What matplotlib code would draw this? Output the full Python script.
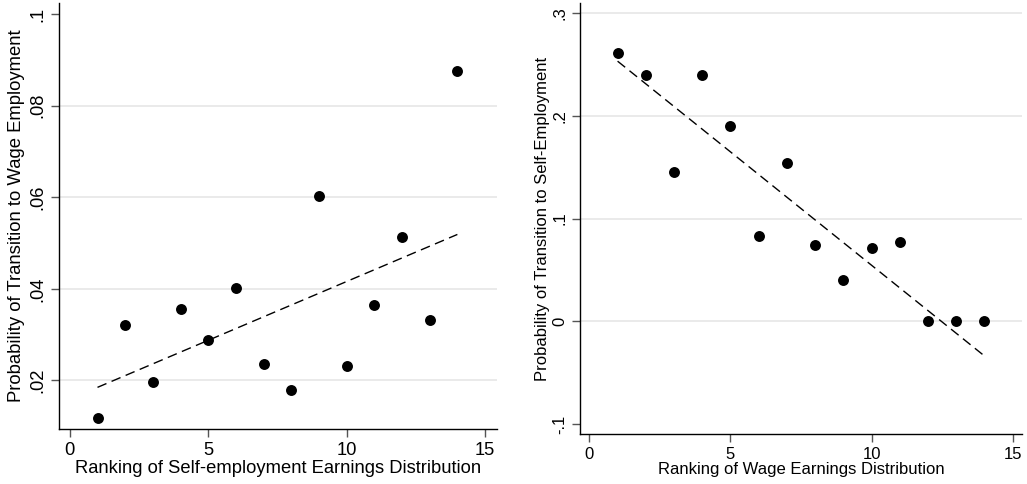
import matplotlib
matplotlib.use('Agg')
import matplotlib.pyplot as plt
import numpy as np

plt.rcParams['font.family'] = ['Liberation Sans', 'DejaVu Sans']

# Left panel: self-employment -> wage employment
rank_se = [1, 2, 3, 4, 5, 6, 7, 8, 9, 10, 11, 12, 13, 14]
prob_to_wage = [0.0118, 0.0322, 0.0196, 0.0357, 0.0289, 0.0402, 0.0236,
                0.0180, 0.0602, 0.0232, 0.0365, 0.0513, 0.0332, 0.0876]
fit_left_x = [1, 14]
fit_left_y = [0.0185, 0.0519]

# Right panel: wage employment -> self-employment
rank_wage = [1, 2, 3, 4, 5, 6, 7, 8, 9, 10, 11, 12, 13, 14]
prob_to_self = [0.2611, 0.2396, 0.1452, 0.2399, 0.1903, 0.0835, 0.1540,
                0.0741, 0.0403, 0.0715, 0.0773, 0.0, 0.0, 0.0]
fit_right_x = [1, 14]
fit_right_y = [0.2533, -0.0337]

x_ticks = [0, 5, 10, 15]
left_yticks = [0.02, 0.04, 0.06, 0.08, 0.1]
left_ylabels = ['.02', '.04', '.06', '.08', '.1']
left_grid = [0.02, 0.04, 0.06, 0.08]
right_yticks = [-0.1, 0.0, 0.1, 0.2, 0.3]
right_ylabels = ['-.1', '0', '.1', '.2', '.3']
right_grid = [0.0, 0.1, 0.2, 0.3]


def style_panel(ax, fs):
    for s in ['top', 'right']:
        ax.spines[s].set_visible(False)
    for s in ['left', 'bottom']:
        ax.spines[s].set_linewidth(1.0)
        ax.spines[s].set_color('black')
    ax.tick_params(axis='both', direction='out', length=6, width=1.0,
                   color='#555555', labelsize=fs, pad=3)
    ax.set_xticks(x_ticks)
    ax.set_xticklabels([str(t) for t in x_ticks])


fig = plt.figure(figsize=(10.27, 4.84), dpi=100)

# left panel
ax1 = fig.add_axes([0.0572, 0.1136, 0.4267, 0.8797])
for g in left_grid:
    ax1.axhline(g, color='#e8e8e8', lw=1.3, zorder=0)
ax1.scatter(rank_se, prob_to_wage, s=62, color='black', zorder=3, linewidths=0)
ax1.plot(fit_left_x, fit_left_y, color='black', lw=1.0, dashes=(7, 4), zorder=2)
ax1.set_xlim(-0.4, 15.43)
ax1.set_ylim(0.0094, 0.1024)
style_panel(ax1, 13.2)
ax1.set_yticks(left_yticks)
ax1.set_yticklabels(left_ylabels, rotation=90, va='center')
ax1.set_xlabel('Ranking of Self-employment Earnings Distribution', fontsize=13.2, labelpad=1)
ax1.set_ylabel('Probability of Transition to Wage Employment', fontsize=13.3, labelpad=3)

# right panel
ax2 = fig.add_axes([0.5648, 0.1033, 0.4303, 0.89])
for g in right_grid:
    ax2.axhline(g, color='#e8e8e8', lw=1.3, zorder=0)
ax2.scatter(rank_wage, prob_to_self, s=62, color='black', zorder=3, linewidths=0)
ax2.plot(fit_right_x, fit_right_y, color='black', lw=1.0, dashes=(7, 4), zorder=2)
ax2.set_xlim(-0.33, 15.33)
ax2.set_ylim(-0.1097, 0.3097)
style_panel(ax2, 12)
ax2.set_yticks(right_yticks)
ax2.set_yticklabels(right_ylabels, rotation=90, va='center')
ax2.set_xlabel('Ranking of Wage Earnings Distribution', fontsize=12, labelpad=0)
ax2.set_ylabel('Probability of Transition to Self-Employment', fontsize=12, labelpad=2)

fig.savefig('out.png', dpi=100)
